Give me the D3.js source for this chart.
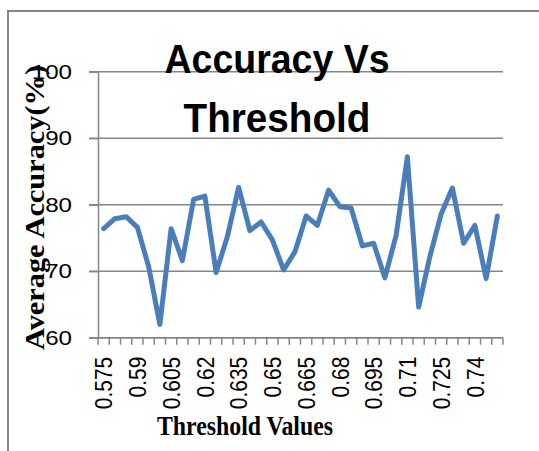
<!DOCTYPE html>
<html>
<head>
<meta charset="utf-8">
<script src="https://d3js.org/d3.v7.min.js"></script>
<style>
  html, body { margin: 0; padding: 0; background: #fff; }
  svg { display: block; }
</style>
</head>
<body>
<div id="chart"></div>
<script>
(function() {
    // --- data ---
    const thresholds = ["0.575", "0.58", "0.585", "0.59", "0.595", "0.6", "0.605", "0.61", "0.615",
        "0.62", "0.625", "0.63", "0.635", "0.64", "0.645", "0.65", "0.655", "0.66", "0.665",
        "0.67", "0.675", "0.68", "0.685", "0.69", "0.695", "0.7", "0.705", "0.71", "0.715",
        "0.72", "0.725", "0.73", "0.735", "0.74", "0.745", "0.75"];
    const accuracy = [76.4, 77.9, 78.2, 76.6, 70.7, 62.0, 76.4, 71.6, 80.8, 81.3, 69.8, 75.2,
        82.6, 76.1, 77.4, 74.7, 70.2, 72.9, 78.3, 76.9, 82.2, 79.7, 79.5, 73.8, 74.2, 69.0,
        75.4, 87.2, 64.6, 72.2, 78.6, 82.5, 74.2, 76.9, 68.9, 78.3];
    const yTicks = [60, 70, 80, 90, 100];
    const xLabels = ["0.575", "0.59", "0.605", "0.62", "0.635", "0.65", "0.665", "0.68",
        "0.695", "0.71", "0.725", "0.74"];

    // --- layout ---
    const width = 539, height = 451;
    const left = 98, right = 503, top = 71.7, bottom = 337.7;
    const grey = "#868686";
    const stretch = 1.15;   // the source picture is a bit wider than tall

    const svg = d3.select("#chart").append("svg")
        .attr("width", width)
        .attr("height", height);

    // outer frame (only top and left edges fall inside the picture)
    svg.append("rect")
        .attr("x", 8).attr("y", 11)
        .attr("width", 600).attr("height", 500)
        .attr("fill", "none")
        .attr("stroke", grey)
        .attr("stroke-width", 2);

    const x = d3.scaleBand().domain(thresholds).range([left, right]).padding(0);
    const y = d3.scaleLinear().domain([60, 100]).range([bottom, top]);

    // gridlines (start a bit left of the axis, like the major ticks)
    svg.append("g").selectAll("line")
        .data(yTicks)
        .join("line")
        .attr("x1", left - 9).attr("x2", right)
        .attr("y1", d => y(d)).attr("y2", d => y(d))
        .attr("stroke", grey)
        .attr("stroke-width", 1.5);

    // y axis
    const yAxis = svg.append("g")
        .attr("transform", `translate(${left},0)`)
        .call(d3.axisLeft(y).tickValues(yTicks).tickSize(9).tickPadding(17).tickSizeOuter(0));
    yAxis.select(".domain").attr("stroke", grey).attr("stroke-width", 1.5);
    yAxis.selectAll(".tick line").attr("stroke", grey).attr("stroke-width", 1.5);
    yAxis.selectAll(".tick text")
        .attr("x", 0)
        .attr("transform", `translate(-26,0) scale(${stretch},1)`)
        .attr("fill", "#000")
        .style("font-family", "'Liberation Sans', Arial, sans-serif")
        .style("font-size", "21px");

    // x axis: line plus tick marks on the category boundaries
    svg.append("line")
        .attr("x1", left - 9).attr("x2", right)
        .attr("y1", bottom).attr("y2", bottom)
        .attr("stroke", grey).attr("stroke-width", 1.5);
    svg.append("g").selectAll("line")
        .data(thresholds.concat(["end"]))
        .join("line")
        .attr("x1", d => d === "end" ? right : x(d))
        .attr("x2", d => d === "end" ? right : x(d))
        .attr("y1", bottom).attr("y2", bottom + 7)
        .attr("stroke", grey).attr("stroke-width", 1.5);

    const xAxis = svg.append("g")
        .attr("transform", `translate(0,${bottom})`)
        .call(d3.axisBottom(x).tickValues(xLabels).tickSize(0));
    xAxis.select(".domain").remove();
    xAxis.selectAll(".tick text")
        .attr("transform", `scale(${stretch},1) rotate(-90)`)
        .attr("x", -19)
        .attr("y", 0)
        .attr("dy", "0.36em")
        .attr("fill", "#000")
        .style("text-anchor", "end")
        .style("font-family", "'Liberation Sans', Arial, sans-serif")
        .style("font-size", "21px");

    // the series
    const line = d3.line()
        .x((d, i) => x(thresholds[i]) + x.bandwidth() / 2)
        .y(d => y(d));
    svg.append("path")
        .datum(accuracy)
        .attr("d", line)
        .attr("fill", "none")
        .attr("stroke", "#4a7ebb")
        .attr("stroke-width", 5)
        .attr("stroke-linejoin", "round")
        .attr("stroke-linecap", "round");

    // axis titles
    svg.append("text")
        .attr("transform", "translate(44,207.5) rotate(-90)")
        .attr("text-anchor", "middle")
        .attr("textLength", 285)
        .attr("lengthAdjust", "spacingAndGlyphs")
        .style("font-family", "'Liberation Serif', 'Times New Roman', serif")
        .style("font-weight", "bold")
        .style("font-size", "28px")
        .text("Average Accuracy(%)");

    svg.append("text")
        .attr("x", 245).attr("y", 435)
        .attr("text-anchor", "middle")
        .attr("textLength", 176)
        .attr("lengthAdjust", "spacingAndGlyphs")
        .style("font-family", "'Liberation Serif', 'Times New Roman', serif")
        .style("font-weight", "bold")
        .style("font-size", "27px")
        .text("Threshold Values");

    // chart title, two lines, on top of the gridlines
    const titleLines = [["Accuracy Vs", 73, 225], ["Threshold", 132, 187]];
    svg.append("g").selectAll("text")
        .data(titleLines)
        .join("text")
        .attr("x", 277)
        .attr("y", d => d[1])
        .attr("text-anchor", "middle")
        .attr("textLength", d => d[2])
        .attr("lengthAdjust", "spacingAndGlyphs")
        .style("font-family", "'Liberation Sans', Arial, sans-serif")
        .style("font-weight", "bold")
        .style("font-size", "40px")
        .text(d => d[0]);
})();
</script>
</body>
</html>
